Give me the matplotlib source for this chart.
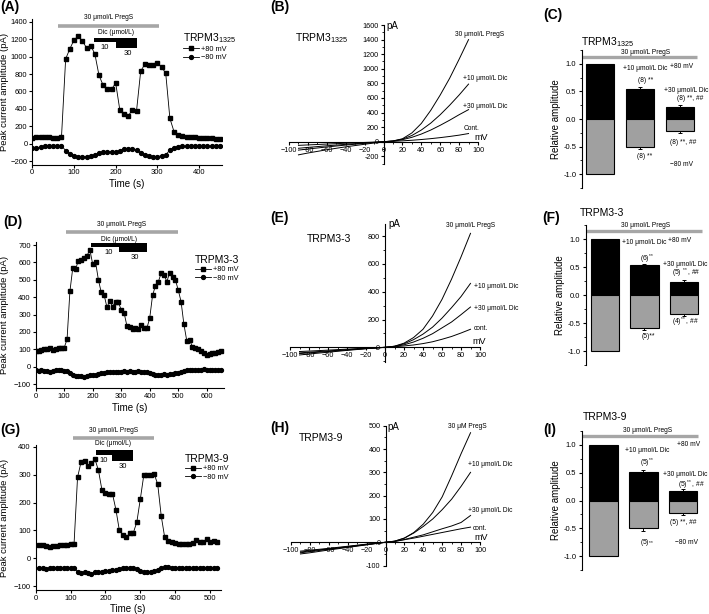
import numpy as np
import matplotlib
matplotlib.use('Agg')
import matplotlib.pyplot as plt
from matplotlib.ticker import MultipleLocator, FormatStrFormatter

plt.rcParams['font.family'] = ['Liberation Sans', 'DejaVu Sans']
plt.rcParams['mathtext.default'] = 'regular'
plt.rcParams['axes.linewidth'] = 0.8
plt.rcParams['xtick.major.width'] = 0.8
plt.rcParams['ytick.major.width'] = 0.8
plt.rcParams['xtick.minor.width'] = 0.6
plt.rcParams['ytick.minor.width'] = 0.6

# ---------------- data ----------------
# Panel A (TRPM3_1325 time course)
A_time = list(range(0, 451, 10))
A_p80 = [70, 75, 78, 72, 78, 70, 68, 75,
         975, 1090, 1192, 1234, 1185, 1101, 1128, 1032, 785, 670, 625, 625, 697,
         385, 343, 320, 385, 377, 834, 914, 899, 899, 930, 880, 811, 290, 137, 99,
         84, 80, 75, 72, 70, 70, 68, 65, 55, 50]
A_m80 = [-45, -50, -40, -32, -30, -30, -25, -25,
         -80, -120, -140, -150, -152, -150, -145, -130, -110, -100, -95, -95, -100,
         -80, -65, -60, -62, -75, -110, -130, -145, -150, -148, -140, -132, -70, -45,
         -35, -32, -30, -30, -30, -30, -30, -28, -30, -30, -30]
A_pregs = (61, 305)
A_dic10 = (148, 201)
A_dic30 = (201, 250)

# Panel D (TRPM3-3 time course)
D_time = list(range(0, 651, 10))
D_p80 = [90, 90, 95, 100, 100, 105, 95, 100, 105, 110, 110,
         157, 433, 567, 563, 610, 615, 625, 638, 673, 590, 602, 500, 427, 413, 342,
         379, 346, 375, 371, 327, 311, 235, 227, 215, 225, 215, 238, 225, 221, 279,
         410, 465, 487, 538, 529, 490, 538, 515, 500, 442, 375, 244, 150, 154, 115,
         110, 102, 92, 77, 70, 72, 77, 81, 85, 90]
D_m80 = [-20, -22, -20, -25, -25, -30, -22, -20, -18, -20, -22,
         -25, -35, -45, -55, -52, -55, -58, -52, -45, -48, -45, -42, -38, -35, -32,
         -30, -30, -28, -30, -28, -25, -28, -25, -30, -28, -25, -28, -30, -32, -38,
         -42, -45, -48, -45, -42, -45, -42, -40, -38, -35, -28, -22, -20, -18, -20,
         -18, -20, -18, -15, -18, -20, -18, -20, -18, -20]
D_pregs = (106, 498)
D_dic10 = (193, 292)
D_dic30 = (292, 390)

# Panel G (TRPM3-9 time course)
G_time = list(range(10, 521, 10))
G_p80 = [48, 47, 45, 42, 45, 45, 47, 48, 48, 52, 52,
         290, 345, 350, 330, 340, 355, 315, 245, 235, 230, 232, 175, 100, 85, 75,
         90, 92, 130, 212, 298, 297, 300, 302, 265, 152, 75, 62, 57, 55, 53, 52,
         52, 53, 55, 65, 58, 60, 68, 60, 62, 58]
G_m80 = [-35, -35, -37, -35, -33, -35, -35, -33, -33, -33, -33,
         -48, -52, -50, -52, -55, -50, -48, -50, -45, -45, -42, -40, -38, -35, -35,
         -35, -35, -37, -45, -48, -50, -48, -45, -40, -35, -32, -32, -33, -33, -33,
         -35, -35, -33, -33, -35, -33, -33, -35, -33, -33, -35]
G_pregs = (106, 339)
G_dic10 = (173, 218)
G_dic30 = (218, 280)

# I-V curves (mV, pA)
IV_mv = [-90, -80, -60, -40, -20, 0, 10, 20, 30, 40, 50, 60, 70, 80, 90]
B_pregs = [-180, -155, -110, -70, -35, 0, 10, 40, 120, 250, 430, 640, 870, 1130, 1400]
B_dic10 = [-115, -100, -72, -46, -22, 0, 10, 35, 85, 160, 255, 370, 500, 640, 790]
B_dic30 = [-90, -78, -56, -36, -18, 0, 8, 28, 60, 105, 160, 225, 295, 370, 440]
B_cont = [-50, -44, -32, -21, -10, 0, 5, 12, 20, 30, 42, 56, 72, 90, 112]

E_pregs = [-55, -48, -35, -22, -10, 0, 8, 30, 70, 130, 225, 345, 490, 650, 820]
E_dic10 = [-45, -40, -30, -19, -9, 0, 8, 25, 55, 95, 145, 210, 285, 365, 460]
E_dic30 = [-40, -35, -26, -17, -8, 0, 6, 18, 38, 65, 98, 140, 182, 235, 290]
E_cont = [-30, -27, -20, -13, -6, 0, 4, 10, 17, 27, 40, 58, 78, 103, 130]

H_pregs = [-50, -45, -33, -22, -11, 0, 5, 18, 42, 78, 128, 195, 285, 380, 470]
H_dic10 = [-45, -40, -30, -20, -10, 0, 5, 18, 40, 68, 100, 140, 185, 240, 300]
H_dic30 = [-42, -37, -28, -19, -9, 0, 4, 12, 22, 32, 45, 58, 70, 85, 115]
H_cont = [-38, -34, -26, -17, -8, 0, 4, 11, 18, 26, 34, 42, 50, 58, 65]

# Relative amplitude bars: PregS, +10 Dic, +30 Dic
bar_groups = ['30 PregS', '+10 Dic', '+30 Dic']
C_p80 = [1.0, 0.54, 0.21]
C_p80_err = [0, 0.04, 0.04]
C_m80 = [-1.0, -0.51, -0.22]
C_m80_err = [0, 0.04, 0.04]
F_p80 = [1.0, 0.53, 0.24]
F_p80_err = [0, 0.02, 0.03]
F_m80 = [-1.0, -0.59, -0.34]
F_m80_err = [0, 0.04, 0.03]
I_p80 = [1.0, 0.51, 0.17]
I_p80_err = [0, 0.04, 0.03]
I_m80 = [-1.0, -0.50, -0.22]
I_m80_err = [0, 0.04, 0.04]

# ---------------- figure ----------------
W, H = 709, 614
fig = plt.figure(figsize=(W / 100, H / 100), dpi=100)

GRAY_BAR = '#a6a6a6'
GRAY_FILL = '#a0a0a0'
TICK_FS = 5.5
LAB_FS = 7
ANN_FS = 4.8


def px_axes(l, t, r, b):
    return fig.add_axes([l / W, 1 - b / H, (r - l) / W, (b - t) / H])


def ftext(x, y, s, **kw):
    kw.setdefault('va', 'center')
    fig.text(x / W, 1 - y / H, s, **kw)


def panel_letter(x, y, s):
    ftext(x, y, s, fontsize=10, fontweight='bold', ha='left')


def time_course(rect, xlim, ylim, xstep, ystep, t, p80, m80, pregs, pregs_y,
                pregs_txt_y, dic_txt, dic10, dic30, bar_top, bot10, bot30,
                lab10, lab30, leg_title, leg_xy):
    ax = px_axes(*rect)
    ax.set_xlim(*xlim)
    ax.set_ylim(*ylim)
    for s in ('top', 'right'):
        ax.spines[s].set_visible(False)
    l1, = ax.plot(t, p80, '-s', color='black', lw=0.6, ms=2.6, label='+80 mV')
    l2, = ax.plot(t, m80, '-o', color='black', lw=0.6, ms=2.8, label='\u221280 mV')
    ax.xaxis.set_major_locator(MultipleLocator(xstep))
    ax.yaxis.set_major_locator(MultipleLocator(ystep))
    ax.tick_params(labelsize=TICK_FS, length=2.5, pad=1)
    ftext(4.5, (rect[1] + rect[3]) / 2, 'Peak current amplitude (pA)',
          fontsize=6.8, rotation=90, ha='center')
    ax.set_xlabel('Time (s)', fontsize=LAB_FS, labelpad=2)
    # PregS bar
    ax.plot(pregs, [pregs_y, pregs_y], color=GRAY_BAR, lw=2.6,
            solid_capstyle='butt', clip_on=False)
    ax.text((pregs[0] + pregs[1]) / 2, pregs_txt_y, '30 \u03bcmol/L PregS',
            fontsize=ANN_FS, ha='center', va='center')
    ax.text(dic_txt[0], dic_txt[1], 'Dic (\u03bcmol/L)', fontsize=ANN_FS,
            ha='center', va='center')
    ax.bar([dic10[0]], [bar_top - bot10], width=dic10[1] - dic10[0], bottom=bot10,
           align='edge', color='black', clip_on=False)
    ax.bar([dic30[0]], [bar_top - bot30], width=dic30[1] - dic30[0], bottom=bot30,
           align='edge', color='black', clip_on=False)
    ax.text(lab10[0], lab10[1], '10', fontsize=5.5, ha='center', va='center')
    ax.text(lab30[0], lab30[1], '30', fontsize=5.5, ha='center', va='center')
    ax.legend(handles=[l1, l2], title=leg_title, loc='upper left',
              bbox_to_anchor=(leg_xy[0] / W, 1 - leg_xy[1] / H),
              bbox_transform=fig.transFigure, frameon=False,
              fontsize=5.3, title_fontsize=7.5, handlelength=2.2,
              handletextpad=0.3, labelspacing=0.15, borderpad=0,
              borderaxespad=0, alignment='left')
    return ax


def iv_panel(rect, ylim, ystep, curves, ylabels_from):
    ax = px_axes(*rect)
    ax.set_xlim(-100, 100)
    ax.set_ylim(*ylim)
    for s in ('top', 'right'):
        ax.spines[s].set_visible(False)
    ax.spines['left'].set_position(('data', 0))
    ax.spines['bottom'].set_position(('data', 0))
    for c in curves:
        ax.plot(IV_mv, c, color='black', lw=0.7)
    ax.xaxis.set_major_locator(MultipleLocator(20))
    ax.xaxis.set_minor_locator(MultipleLocator(10))
    ax.yaxis.set_major_locator(MultipleLocator(ystep))
    ax.yaxis.set_minor_locator(MultipleLocator(ystep / 2))
    ax.tick_params(labelsize=5.2, length=2.5, pad=1)
    ax.tick_params(which='minor', length=1.5)
    yt = [v for v in np.arange(ylabels_from, ylim[1] + 1, ystep)]
    ax.set_yticks(yt)
    ax.set_yticklabels([str(int(v)) for v in yt])
    return ax


def bar_panel(rect, xlim, p80, p80e, m80, m80e, pregs_x1, pregs_y):
    ax = px_axes(*rect)
    ax.set_xlim(*xlim)
    ax.set_ylim(-1.25, 1.25)
    for s in ('top', 'right', 'bottom'):
        ax.spines[s].set_visible(False)
    x = np.arange(1, len(bar_groups) + 1)
    ax.bar(x, p80, width=0.72, color='black', edgecolor='black', lw=0.8)
    ax.bar(x, m80, width=0.72, color=GRAY_FILL, edgecolor='black', lw=0.8)
    ax.errorbar(x[1:], p80[1:], yerr=[[0] * 2, p80e[1:]], fmt='none',
                ecolor='black', elinewidth=0.7, capsize=1.5, capthick=0.7)
    ax.errorbar(x[1:], m80[1:], yerr=[m80e[1:], [0] * 2], fmt='none',
                ecolor='black', elinewidth=0.7, capsize=1.5, capthick=0.7)
    ax.plot([xlim[0], pregs_x1], [pregs_y, pregs_y], color=GRAY_BAR, lw=2.4,
            solid_capstyle='butt', clip_on=False)
    ax.set_xticks([])
    ax.yaxis.set_major_locator(MultipleLocator(0.5))
    ax.yaxis.set_minor_locator(MultipleLocator(0.25))
    ax.yaxis.set_major_formatter(FormatStrFormatter('%.1f'))
    ax.tick_params(labelsize=5.5, length=2.5, pad=1.5)
    ax.tick_params(which='minor', length=1.5)
    ax.set_ylabel('Relative amplitude', fontsize=LAB_FS, labelpad=2)
    return ax


# ---------- Row 1 ----------
time_course((32.3, 19.3, 222, 164.5), (0, 455), (-240, 1430), 100, 200,
            A_time, A_p80, A_m80, A_pregs, 1357, 1446, (200, 1280),
            A_dic10, A_dic30, 1217, 1165, 1100, (173, 1110), (228, 1040),
            'TRPM3$_{1325}$', (183, 31))
panel_letter(0, 7, '(A)')

iv_panel((289, 25, 478, 163.6), (-300, 1600), 200,
         [B_pregs, B_dic10, B_dic30, B_cont], -200)
panel_letter(270, 7, '(B)')
ftext(295, 38, 'TRPM3$_{1325}$', fontsize=7.5, ha='left')
ftext(386, 26, 'pA', fontsize=7, ha='left')
ftext(455, 35, '30 \u03bcmol/L PregS', fontsize=ANN_FS, ha='left')
ftext(463, 78, '+10 \u03bcmol/L Dic', fontsize=ANN_FS, ha='left')
ftext(463, 106, '+30 \u03bcmol/L Dic', fontsize=ANN_FS, ha='left')
ftext(464, 128, 'Cont.', fontsize=ANN_FS, ha='left')
ftext(474, 137, 'mV', fontsize=6.5, ha='left')

bar_panel((582, 50, 709, 188), (0.55, 3.725), C_p80, C_p80_err, C_m80, C_m80_err,
          3.42, 1.115)
panel_letter(543, 15, '(C)')
ftext(581, 42, 'TRPM3$_{1325}$', fontsize=7.5, ha='left')
ftext(646, 52, '30 \u03bcmol/L PregS', fontsize=ANN_FS, ha='center')
ftext(645, 68, '+10 \u03bcmol/L Dic', fontsize=ANN_FS, ha='center')
ftext(682, 67, '+80 mV', fontsize=ANN_FS, ha='center')
ftext(646, 80, '(8) **', fontsize=ANN_FS, ha='center')
ftext(686, 90, '+30 \u03bcmol/L Dic', fontsize=ANN_FS, ha='center')
ftext(690, 98, '(8) **, ##', fontsize=ANN_FS, ha='center')
ftext(683, 142, '(8) **, ##', fontsize=ANN_FS, ha='center')
ftext(645, 157, '(8) **', fontsize=ANN_FS, ha='center')
ftext(682, 165, '\u221280 mV', fontsize=ANN_FS, ha='center')

# ---------- Row 2 ----------
time_course((35.7, 242.4, 223.8, 388.1), (0, 660), (-123, 715), 100, 100,
            D_time, D_p80, D_m80, D_pregs, 777, 820, (292, 734),
            D_dic10, D_dic30, 710, 687, 658, (255, 656), (349, 630),
            'TRPM3-3', (195, 255))
panel_letter(3, 222, '(D)')

iv_panel((290, 223.6, 480, 361.8), (-104, 890), 200,
         [E_pregs, E_dic10, E_dic30, E_cont], 0)
panel_letter(270, 218, '(E)')
ftext(307, 239, 'TRPM3-3', fontsize=7.5, ha='left')
ftext(388, 224, 'pA', fontsize=7, ha='left')
ftext(446, 226, '30 \u03bcmol/L PregS', fontsize=ANN_FS, ha='left')
ftext(474, 286, '+10 \u03bcmol/L Dic', fontsize=ANN_FS, ha='left')
ftext(474, 309, '+30 \u03bcmol/L Dic', fontsize=ANN_FS, ha='left')
ftext(474, 329, 'cont.', fontsize=ANN_FS, ha='left')
ftext(472, 342, 'mV', fontsize=6.5, ha='left')

bar_panel((586, 225, 709, 365), (0.52, 3.634), F_p80, F_p80_err, F_m80, F_m80_err,
          3.46, 1.14)
panel_letter(542, 218, '(F)')
ftext(580, 213, 'TRPM3-3', fontsize=7.5, ha='left')
ftext(646, 226, '30 \u03bcmol/L PregS', fontsize=ANN_FS, ha='center')
ftext(666, 243, '+10 \u03bcmol/L Dic', fontsize=ANN_FS, ha='right')
ftext(668, 241, '+80 mV', fontsize=ANN_FS, ha='left')
ftext(647, 259, '(6)$^{**}$', fontsize=ANN_FS, ha='center')
ftext(663, 264, '+30 \u03bcmol/L Dic', fontsize=ANN_FS, ha='left')
ftext(672, 273, '(5) $^{**}$, ##', fontsize=ANN_FS, ha='left')
ftext(672, 322, '(4)$^{**}$, ##', fontsize=ANN_FS, ha='left')
ftext(648, 337, '(5)**', fontsize=ANN_FS, ha='center')

# ---------- Row 3 ----------
time_course((35.7, 445.3, 220.5, 589.7), (0, 530), (-112, 405), 100, 100,
            G_time, G_p80, G_m80, G_pregs, 432, 457, (223, 412),
            G_dic10, G_dic30, 388, 370, 349, (194, 352), (250, 328),
            'TRPM3-9', (185, 454))
panel_letter(0, 430, '(G)')

iv_panel((291, 425.7, 480, 565.6), (-100, 500), 100,
         [H_pregs, H_dic10, H_dic30, H_cont], -100)
panel_letter(270, 428, '(H)')
ftext(299, 438, 'TRPM3-9', fontsize=7.5, ha='left')
ftext(387, 427, 'pA', fontsize=7, ha='left')
ftext(448, 426, '30 \u03bcM PregS', fontsize=ANN_FS, ha='left')
ftext(468, 465, '+10 \u03bcmol/L Dic', fontsize=ANN_FS, ha='left')
ftext(468, 510, '+30 \u03bcmol/L Dic', fontsize=ANN_FS, ha='left')
ftext(473, 528, 'cont.', fontsize=ANN_FS, ha='left')
ftext(474, 538, 'mV', fontsize=6.5, ha='left')

bar_panel((582, 431, 709, 570), (0.46, 3.655), I_p80, I_p80_err, I_m80, I_m80_err,
          3.38, 1.16)
panel_letter(543, 430, '(I)')
ftext(583, 417, 'TRPM3-9', fontsize=7.5, ha='left')
ftext(648, 431, '30 \u03bcmol/L PregS', fontsize=ANN_FS, ha='center')
ftext(625, 451, '+10 \u03bcmol/L Dic', fontsize=ANN_FS, ha='left')
ftext(677, 444, '+80 mV', fontsize=ANN_FS, ha='left')
ftext(647, 463, '(5)$^{**}$', fontsize=ANN_FS, ha='center')
ftext(663, 474, '+30 \u03bcmol/L Dic', fontsize=ANN_FS, ha='left')
ftext(678, 485, '(5)$^{**}$, ##', fontsize=ANN_FS, ha='left')
ftext(670, 523, '(5) **, ##', fontsize=ANN_FS, ha='left')
ftext(647, 542, '(5)$_{**}$', fontsize=ANN_FS, ha='center')
ftext(675, 542, '\u221280 mV', fontsize=ANN_FS, ha='left')

fig.savefig('out.png', dpi=100)
